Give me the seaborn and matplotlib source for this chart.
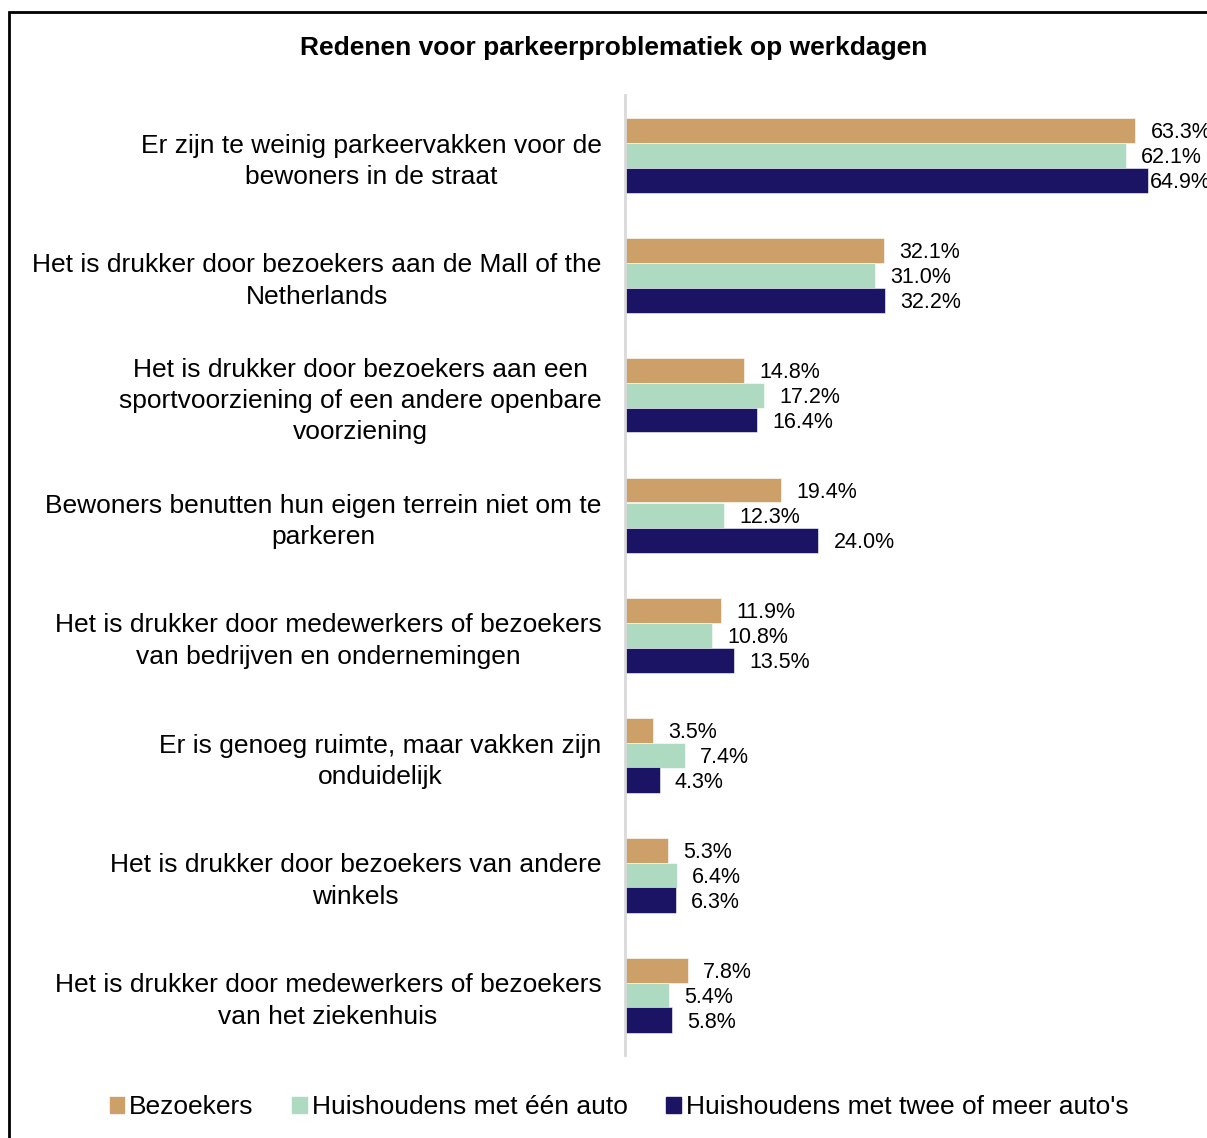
import matplotlib
matplotlib.use("Agg")
import matplotlib.pyplot as plt
import seaborn as sns
import pandas as pd
from matplotlib.patches import Rectangle

categories = [
    "Er zijn te weinig parkeervakken voor de\nbewoners in de straat",
    "Het is drukker door bezoekers aan de Mall of the\nNetherlands",
    "Het is drukker door bezoekers aan een\nsportvoorziening of een andere openbare\nvoorziening",
    "Bewoners benutten hun eigen terrein niet om te\nparkeren",
    "Het is drukker door medewerkers of bezoekers\nvan bedrijven en ondernemingen",
    "Er is genoeg ruimte, maar vakken zijn\nonduidelijk",
    "Het is drukker door bezoekers van andere\nwinkels",
    "Het is drukker door medewerkers of bezoekers\nvan het ziekenhuis",
]
series_names = ["Bezoekers", "Huishoudens met één auto", "Huishoudens met twee of meer auto's"]
bezoekers = [63.3, 32.1, 14.8, 19.4, 11.9, 3.5, 5.3, 7.8]
een_auto = [62.1, 31.0, 17.2, 12.3, 10.8, 7.4, 6.4, 5.4]
twee_autos = [64.9, 32.2, 16.4, 24.0, 13.5, 4.3, 6.3, 5.8]
colors = ["#CDA06A", "#AEDAC2", "#1B1464"]

rows = []
for name, vals in zip(series_names, [bezoekers, een_auto, twee_autos]):
    for c, v in zip(categories, vals):
        rows.append({"cat": c, "serie": name, "val": v})
df = pd.DataFrame(rows)

sns.set_theme(style="white")
plt.rcParams["font.family"] = ["Liberation Sans", "DejaVu Sans"]
plt.rcParams["text.color"] = "black"
plt.rcParams["ytick.color"] = "black"

W, H = 1207, 1138
fig = plt.figure(figsize=(W / 100, H / 100), dpi=100)
ax = fig.add_axes([625 / W, 1 - 1055 / H, 1 - 625 / W, (1055 - 95) / H])

sns.barplot(data=df, y="cat", x="val", hue="serie", order=categories,
            hue_order=series_names, palette=colors, orient="h",
            width=0.625, ax=ax, saturation=1, legend=False,
            edgecolor="white", linewidth=0.4)

ax.set_xlim(0, 72.2)
ax.set_xlabel("")
ax.set_ylabel("")
ax.set_xticks([])
for s in ["top", "right", "bottom"]:
    ax.spines[s].set_visible(False)
ax.spines["left"].set_color("#D9D9D9")
ax.spines["left"].set_linewidth(2)
ax.tick_params(axis="y", length=0, pad=17, labelsize=19, labelcolor="black")
for lab in ax.get_yticklabels():
    lab.set_multialignment("center")
    lab.set_linespacing(1.38)

for i, cont in enumerate(ax.containers):
    labs = ax.bar_label(cont, fmt="%.1f%%", padding=11, fontsize=15.5, color="black")
    for lb in labs:
        x0, _ = lb.xyann
        lb.xyann = (x0, -1.5)
    if i == 2:
        labs[0].xyann = (1.5, -1.5)

fig.text(614 / W, 1 - 48 / H, "Redenen voor parkeerproblematiek op werkdagen",
         ha="center", va="center", fontsize=19, fontweight="bold", color="black")

handles = [Rectangle((0, 0), 1, 1, color=c) for c in colors]
fig.legend(handles, series_names, loc="center", bbox_to_anchor=(619 / W, 1 - 1107 / H),
           ncol=3, frameon=False, fontsize=19, handlelength=0.55, handleheight=0.55,
           handletextpad=0.2, columnspacing=1.45)

fig.patches.append(Rectangle((9 / W, -0.1), 2, 1.1 - 12 / H, transform=fig.transFigure,
                             fill=False, edgecolor="black", linewidth=2))

fig.savefig("out.png", dpi=100)
